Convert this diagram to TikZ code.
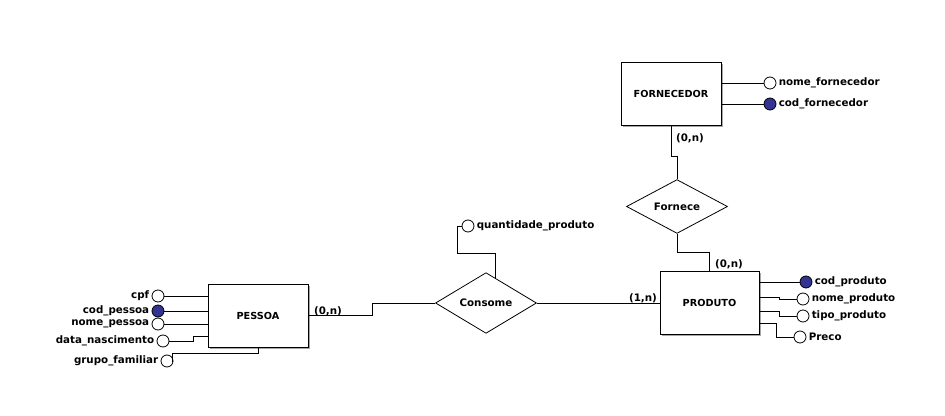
\documentclass[tikz,border=0pt]{standalone}
\usepackage{fontspec}
\setmainfont{DejaVu Sans}
\usetikzlibrary{shapes.geometric,shadows,calc}
\definecolor{chavecor}{RGB}{51,51,145}
\begin{document}
\begin{tikzpicture}[x=1pt,y=-1pt,line width=0.8pt,
	font=\fontsize{10.3}{12}\selectfont\bfseries,
	entidade/.style={draw,fill=white,minimum width=100pt,minimum height=63pt,
		font=\fontsize{9.7}{11}\selectfont\bfseries,
		drop shadow={shadow xshift=2pt,shadow yshift=-2pt,opacity=1,fill=black!35}},
	relacao/.style={draw,diamond,fill=white,minimum width=101pt,minimum height=49pt,inner sep=0pt},
	attr/.style={circle,draw,fill=white,minimum size=12pt,inner sep=0pt},
	chave/.style={attr,fill=chavecor},
	every label/.style={inner sep=1pt},
	label distance=1pt]
	\useasboundingbox (0,0) rectangle (945,415);

	% entidades e relacionamentos
	\node [entidade] (forn) at (671,93.5) {FORNECEDOR};
	\node [entidade] (pessoa) at (258,315.5) {PESSOA};
	\node [entidade,minimum width=99pt] (prod) at (709.5,302.5) {PRODUTO};
	\node [relacao] (consome) at (486,303) {Consome};
	\node [relacao] (fornece) at (677,206.5) {Fornece};

	% atributos de FORNECEDOR
	\node [attr,label=right:{nome\_fornecedor}] (nomef) at (770,83) {};
	\node [chave,label=right:{cod\_fornecedor}] (codf) at (770,104) {};
	\draw (nomef) -- (nomef -| forn.east);
	\draw (codf) -- (codf -| forn.east);

	% atributos de PESSOA
	\node [attr,label=left:{cpf}] (cpf) at (158,296) {};
	\node [chave,label=left:{cod\_pessoa}] (codp) at (158,311) {};
	\node [attr,label=left:{nome\_pessoa}] (nomep) at (158,324) {};
	\node [attr,label=left:{data\_nascimento}] (datan) at (163,341) {};
	\node [attr,label=left:{grupo\_familiar}] (grupo) at (167,361) {};
	\draw (cpf) -- (cpf -| pessoa.west);
	\draw (codp) -- (codp -| pessoa.west);
	\draw (nomep) -- (nomep -| pessoa.west);
	\draw (datan) -- (193,341) |- (pessoa.west |- 0,336);
	\draw (grupo) -- ++(5,0) |- ($(pessoa.south)+(0,6)$) -- (pessoa.south);

	% atributos de PRODUTO
	\node [chave,label=right:{cod\_produto}] (codpr) at (806,282) {};
	\node [attr,label=right:{nome\_produto}] (nomepr) at (803,299) {};
	\node [attr,label=right:{tipo\_produto}] (tipopr) at (803,316) {};
	\node [attr,label=right:{Preco}] (preco) at (800,337) {};
	\draw (codpr) -- (codpr -| prod.east);
	\draw (prod.east |- 0,297) -- (779,297) |- (nomepr);
	\draw (prod.east |- 0,311) -- (779,311) |- (tipopr);
	\draw (prod.east |- 0,323) -- (776,323) |- (preco);

	% atributo de Consome
	\node [attr,label=right:{quantidade\_produto}] (qtd) at (468,226) {};
	\coordinate (c1) at ($(consome.north)!.18!(consome.east)$);
	\draw (c1) |- (457,253) |- (qtd);

	% ligacoes
	\draw (forn.south) -- (forn.south |- 0,156) -| (fornece.north);
	\draw (fornece.south) -- (fornece.south |- 0,252) -| (prod.north);
	\draw (consome.east) -- (consome.east -| prod.west);
	\draw (consome.west) -- (372,303) |- (pessoa.east);

	% cardinalidades
	\node (cf) at (690,138) {(0,n)};
	\node (cp) at (729,264) {(0,n)};
	\node (cc) at (643,298) {(1,n)};
	\node (cpe) at (328,311) {(0,n)};
\end{tikzpicture}
\end{document}
